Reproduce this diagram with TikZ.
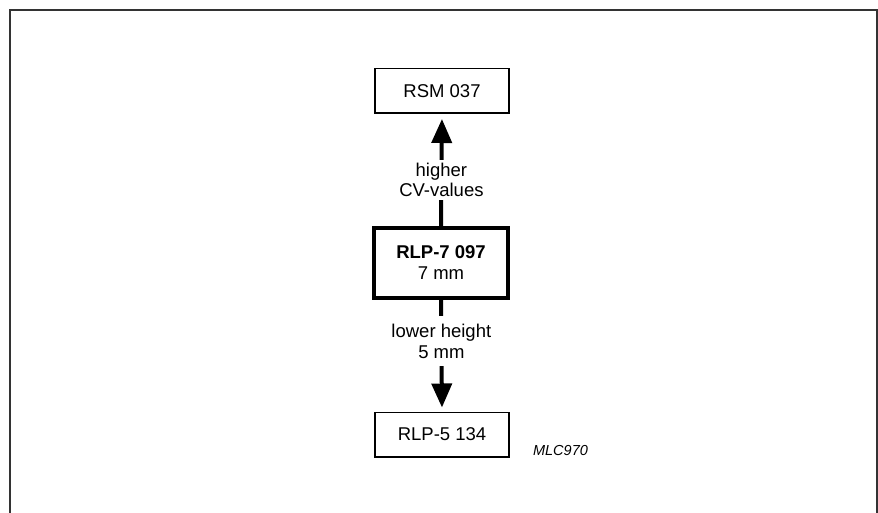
\documentclass[tikz,border=0pt]{standalone}
\usepackage{fontspec}
\setmainfont{Liberation Sans}
\usetikzlibrary{arrows.meta, positioning}

\begin{document}
\begin{tikzpicture}[x=1pt, y=-1pt,
            box/.style={rectangle, draw, line width=1.5pt, minimum width=134pt,
                        minimum height=44.5pt, inner sep=0pt, align=center,
                        font=\fontsize{18.5}{21}\selectfont},
            mainbox/.style={box, line width=4pt, minimum height=70pt},
            link/.style={line width=4pt, -{Triangle[length=24pt, width=20pt]}},
            lbl/.style={fill=white, align=center, inner xsep=2pt, inner ysep=3pt,
                        font=\fontsize{18.5}{20.5}\selectfont}
          ]
          \useasboundingbox (0,0) rectangle (878,513);
          % open frame
          \draw[line width=2pt, black!80] (10,513) -- (10,10) -- (877,10) -- (877,513);

          \node[box] (rsm) at (442, 91) {RSM 037};
          \node[mainbox] (rlp7) at (441, 263)
                {\textbf{RLP-7 097}\\7 mm};
          \node[box] (rlp5) at (442, 434.5) {RLP-5 134};

          \draw[link, shorten >=5pt]
                (rlp7.north) -- node[lbl, pos=0.41]{higher\\CV-values} (rsm.south);
          \draw[link, shorten >=4pt]
                (rlp7.south) -- node[lbl, pos=0.37, inner ysep=8pt]{lower height\\5 mm} (rlp5.north);

          \node[font=\fontsize{14.5}{17}\selectfont\itshape] (code) at (560.5, 451) {MLC970};
        \end{tikzpicture}
\end{document}
